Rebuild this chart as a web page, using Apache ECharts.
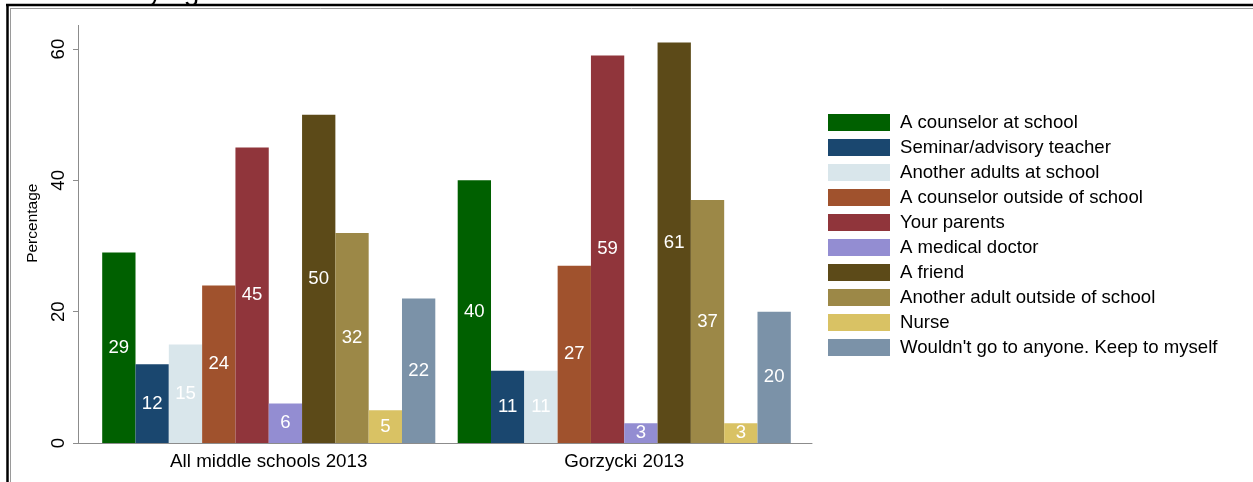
<!DOCTYPE html>
<html>
<head>
<meta charset="utf-8">
<script src="https://cdn.jsdelivr.net/npm/echarts@6/dist/echarts.min.js"></script>
<style>
html,body{margin:0;padding:0;background:#fff;}
#chart{width:1253px;height:482px;}
</style>
</head>
<body>
<div id="chart"></div>
<script>
// ---- data ----
var categories = ["All middle schools 2013", "Gorzycki 2013"];
var seriesNames = [
  "A counselor at school",
  "Seminar/advisory teacher",
  "Another adults at school",
  "A counselor outside of school",
  "Your parents",
  "A medical doctor",
  "A friend",
  "Another adult outside of school",
  "Nurse",
  "Wouldn't go to anyone. Keep to myself"
];
var allMiddle2013 = [29, 12, 15, 24, 45, 6, 50, 32, 5, 22];
var gorzycki2013  = [40, 11, 11, 27, 59, 3, 61, 37, 3, 20];
var yTicks = [0, 20, 40, 60];

// ---- styles ----
var colors = ["#006000", "#1a476f", "#d9e6eb", "#a0522d", "#90353b",
              "#938dd2", "#5c4a18", "#9c8847", "#d9c264", "#7b92a8"];
var FONT = "Liberation Sans, Arial, sans-serif";
var FS = 18.6;
var yMax = 63.6;
var gridTop = 25.4, gridBottom = 39;

var series = seriesNames.map(function (name, i) {
  return {
    name: name,
    type: 'bar',
    xAxisIndex: 0,
    yAxisIndex: 0,
    barGap: '0%',
    barCategoryGap: '6.3%',
    itemStyle: { color: colors[i] },
    label: {
      show: true,
      position: 'inside',
      color: '#ffffff',
      fontFamily: FONT,
      fontSize: FS
    },
    emphasis: { disabled: true },
    data: [allMiddle2013[i], gorzycki2013[i]]
  };
});

var chart = echarts.init(document.getElementById('chart'), null, { renderer: 'canvas' });
chart.setOption({
  animation: false,
  backgroundColor: '#ffffff',
  textStyle: { fontFamily: FONT },
  grid: [
    { left: 91, right: 451, top: gridTop, bottom: gridBottom, containLabel: false },
    { left: 78, right: 441, top: gridTop, bottom: gridBottom, containLabel: false }
  ],
  xAxis: [
    {
      type: 'category', gridIndex: 0, data: categories,
      axisLine: { show: false }, axisTick: { show: false },
      axisLabel: { color: '#000', fontFamily: FONT, fontSize: 18.8, margin: 9 }
    },
    {
      type: 'value', gridIndex: 1, min: 0, max: 1,
      axisLine: { show: true, onZero: false, lineStyle: { color: '#8c8c8c', width: 1 } },
      axisTick: { show: false }, axisLabel: { show: false }, splitLine: { show: false }
    }
  ],
  yAxis: [
    {
      type: 'value', gridIndex: 0, min: 0, max: yMax,
      show: false, splitLine: { show: false }
    },
    {
      type: 'value', gridIndex: 1, min: 0, max: yMax,
      name: 'Percentage', nameLocation: 'middle', nameRotate: 90, nameGap: 33,
      nameTextStyle: { color: '#000', fontFamily: FONT, fontSize: 15.5, padding: [0, 0, 0, 22] },
      axisLine: { show: true, lineStyle: { color: '#8c8c8c', width: 1 } },
      axisTick: { show: true, length: 5, lineStyle: { color: '#8c8c8c' }, customValues: yTicks },
      axisLabel: { color: '#000', fontFamily: FONT, fontSize: FS, rotate: 90, margin: 10, customValues: yTicks },
      splitLine: { show: false }
    }
  ],
  legend: {
    orient: 'vertical',
    left: 828,
    top: 113,
    padding: 0,
    itemWidth: 62,
    itemHeight: 17,
    itemGap: 6,
    icon: 'rect',
    selectedMode: false,
    data: seriesNames,
    textStyle: { color: '#000', fontFamily: FONT, fontSize: FS, lineHeight: 17, padding: [0, 0, 0, 5] }
  },
  graphic: [
    { type: 'line', shape: { x1: 6, y1: 5, x2: 1253, y2: 5 }, style: { stroke: '#000', lineWidth: 2.5 } },
    { type: 'line', shape: { x1: 7.5, y1: 4, x2: 7.5, y2: 482 }, style: { stroke: '#000', lineWidth: 2.5 } },
    { type: 'line', shape: { x1: 10, y1: 8.5, x2: 1253, y2: 8.5 }, style: { stroke: '#9a9a9a', lineWidth: 1 } },
    { type: 'line', shape: { x1: 10.5, y1: 8, x2: 10.5, y2: 482 }, style: { stroke: '#9a9a9a', lineWidth: 1 } },
    { type: 'text', left: 148, top: -22, z: -1, style: { text: 'ying', fontFamily: FONT, fontSize: 28, fill: '#000' } }
  ],
  series: series
});
</script>
</body>
</html>
